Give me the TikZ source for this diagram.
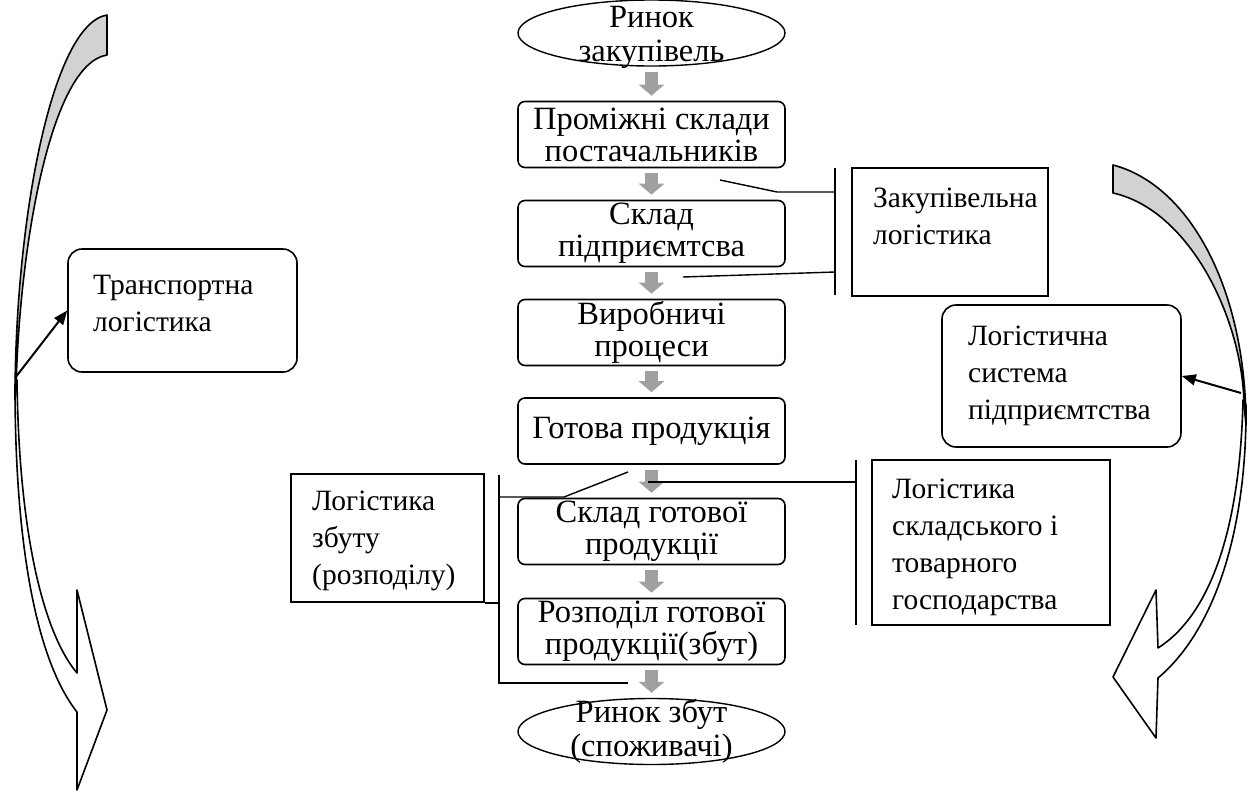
\documentclass[tikz,border=0pt]{standalone}
\usepackage{fontspec}
\setmainfont{Liberation Serif}
\usetikzlibrary{shapes.geometric,arrows.meta}
\definecolor{arrgray}{RGB}{160,160,160}
\definecolor{tailgray}{RGB}{210,210,210}
\begin{document}
\begin{tikzpicture}[x=1pt,y=-1pt]
\tikzset{
    stage/.style={draw, rounded corners=7pt, line width=1.6pt, minimum width=267pt, minimum height=66pt, inner sep=0pt, align=center, font=\fontsize{32.5}{32}\selectfont},
    market/.style={draw, ellipse, line width=1.4pt, minimum width=267pt, minimum height=66pt, inner sep=0pt},
    market text/.style={align=center, inner sep=0pt, font=\fontsize{32.5}{34}\selectfont},
    flow/.style={arrgray, line width=13pt, -{Triangle[length=11pt,width=25pt]}, shorten <=5pt, shorten >=5pt},
    side/.style={draw, line width=1.6pt, inner sep=0pt},
    side text/.style={anchor=west, align=left, inner sep=0pt, font=\fontsize{29.5}{37}\selectfont},
    bracket/.style={line width=1.4pt},
    ptr/.style={line width=2pt, -{Triangle[length=14pt,width=11pt]}},
    big arrow/.style={line width=1.6pt, line join=round}}
\def\cx{651.5}

\useasboundingbox (0,0) rectangle (1256,793);

% central chain
\node[market] (zak) at (\cx,33) {};
\node[market text] (zaktext) at (\cx,37) {Ринок\\закупівель};
\node[stage] (post) at (\cx,134.5) {Проміжні склади\\постачальників};
\node[stage] (skl) at (\cx,233.5) {Склад\\підприємтсва};
\node[stage] (vyr) at (\cx,332.5) {Виробничі\\процеси};
\node[stage] (got) at (\cx,431) {Готова продукція};
\node[stage] (sgp) at (\cx,531.5) {Склад готової\\продукції};
\node[stage] (rozp) at (\cx,631.5) {Розподіл готової\\продукції(збут)};
\node[market] (zb) at (\cx,731.5) {};
\node[market text] (zbtext) at (\cx,731) {Ринок збут\\(споживачі)};

\draw[flow] (zak) -- (post);
\draw[flow] (post) -- (skl);
\draw[flow] (skl) -- (vyr);
\draw[flow] (vyr) -- (got);
\draw[flow] (got) -- (sgp);
\draw[flow] (sgp) -- (rozp);
\draw[flow] (rozp) -- (zb);

% side boxes
\node[side, minimum width=196pt, minimum height=128pt] (zakl) at (950,232) {};
\node[side text] (zakltext) at (873,216) {Закупівельна\\логістика};
\node[side, minimum width=238pt, minimum height=165pt] (lskl) at (991,542.5) {};
\node[side text] (lskltext) at (892,547) {Логістика\\складського і\\товарного\\господарства};
\node[side, minimum width=193pt, minimum height=128pt] (lzb) at (387.5,538) {};
\node[side text] (lzbtext) at (312,541) {Логістика\\збуту\\(розподілу)};
\node[side, rounded corners=14pt, minimum width=229pt, minimum height=123pt] (trl) at (182.5,310.5) {};
\node[side text] (trltext) at (93,303) {Транспортна\\логістика};
\node[side, rounded corners=14pt, minimum width=239pt, minimum height=142pt] (lsys) at (1061.5,376) {};
\node[side text] (lsystext) at (968,376) {Логістична\\система\\підприємтства};

% brackets
\coordinate (zbt) at (835,168);
\coordinate (zbb) at (835,295);
\coordinate (zu1) at (720,180);
\coordinate (zu2) at (777,192);
\coordinate (zl1) at (683,277);
\coordinate (zl2) at (835,272);
\draw[bracket] (zbt) -- (zbb);
\draw[bracket] (zu1) -- (zu2) -- (zu2 -| zbt);
\draw[bracket] (zl1) -- (zl2);

\coordinate (kbt) at (856,460);
\coordinate (kbb) at (856,625);
\coordinate (k1) at (648,482);
\draw[bracket] (kbt) -- (kbb);
\draw[bracket] (k1) -- (k1 -| kbt);

\coordinate (vbt) at (499,475);
\coordinate (vbb) at (499,683);
\coordinate (vb2) at (628,683);
\coordinate (s1) at (628,472);
\coordinate (s2) at (564,497);
\draw[bracket] (vbt) -- (vbb) -- (vb2);
\draw[bracket] (s1) -- (s2) -- (s2 -| vbt);
\draw[bracket] (lzb.south east) -- (lzb.south east -| vbt);

% left curved arrow
\draw[big arrow, fill=white] (17,380) .. controls (19,540) and (45,635) .. (77,673)
    -- (77,590) -- (107,710) -- (77,790) -- (77,712)
    .. controls (40,665) and (15,560) .. (15,385) -- cycle;
\draw[big arrow, fill=tailgray] (107,15) .. controls (52,24) and (15,220) .. (15,400)
    -- (16,390) .. controls (19,250) and (50,64) .. (107,55) -- cycle;
\coordinate (tcurve) at (15,378);
\draw[ptr] (tcurve) -- (trl.west);

% right curved arrow
\draw[big arrow, fill=white] (1243,400) .. controls (1240,530) and (1210,615) .. (1158,648)
    -- (1156,590) -- (1113,677) -- (1156,738) -- (1158,678)
    .. controls (1215,630) and (1247,530) .. (1246,405) -- cycle;
\draw[big arrow, fill=tailgray] (1113,165) .. controls (1190,185) and (1246,290) .. (1246,425)
    -- (1244,405) .. controls (1243,320) and (1190,210) .. (1113,193) -- cycle;
\coordinate (scurve) at (1241,393);
\draw[ptr] (scurve) -- (lsys.east);

\end{tikzpicture}
\end{document}
